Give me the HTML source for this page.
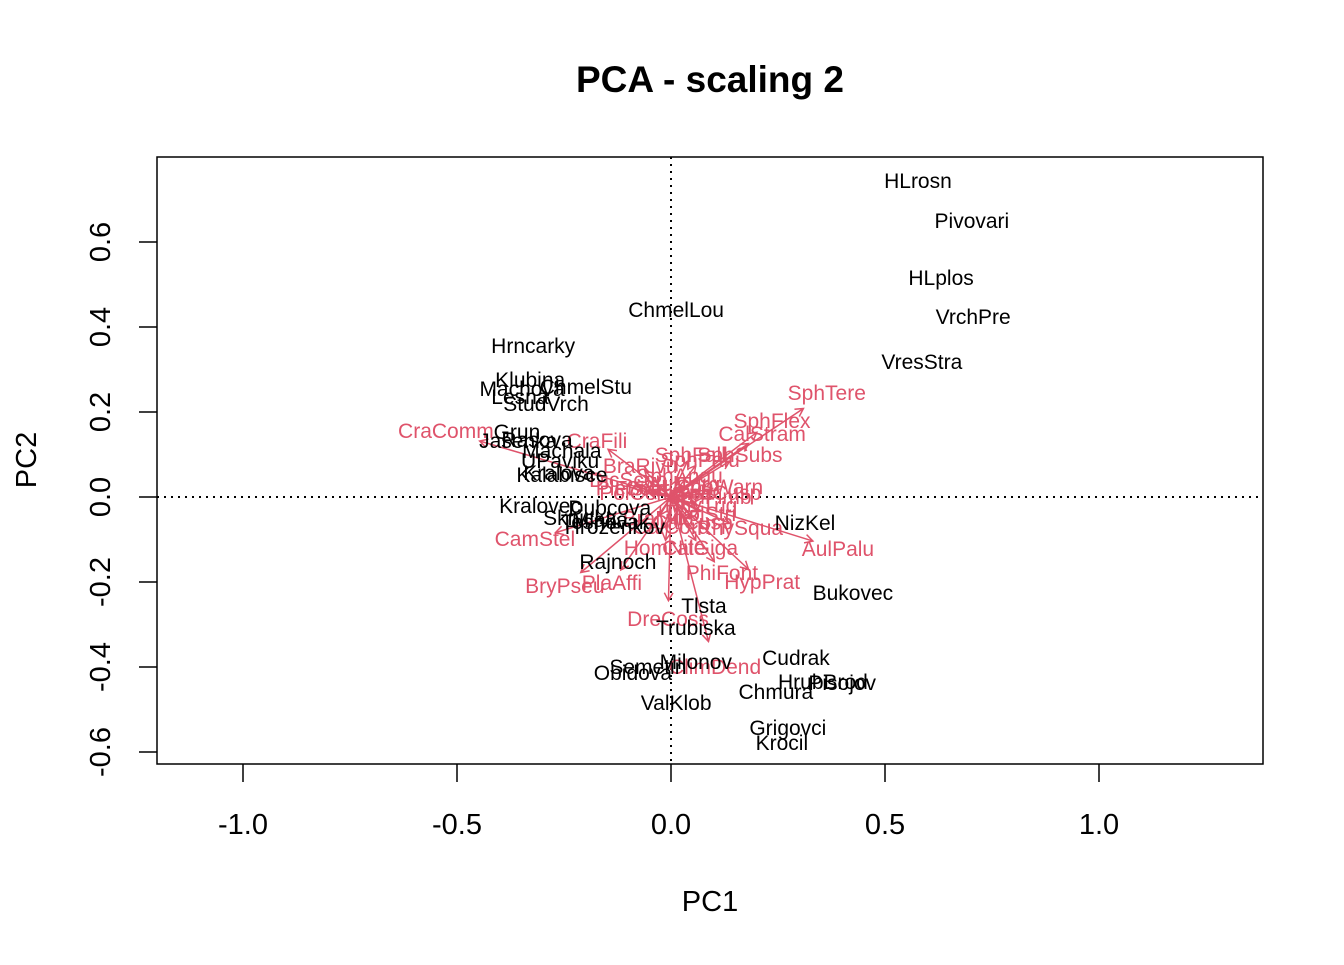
<!DOCTYPE html>
<html><head><meta charset="utf-8"><style>
body{margin:0;background:#fff;}
svg text{font-family:"Liberation Sans",Arial,sans-serif;}
</style></head><body>
<svg id="chart" width="1344" height="960" viewBox="0 0 1344 960">
<text x="710" y="92" font-size="37" font-weight="bold" text-anchor="middle">PCA - scaling 2</text>
<rect x="157" y="157" width="1106" height="607" fill="none" stroke="#000" stroke-width="1.5"/>
<g id="axes"></g>
<g id="refs"></g>
<g id="species"></g>
<g id="sites"></g>
<text x="710" y="911" font-size="29" text-anchor="middle">PC1</text>
<text x="36" y="460" font-size="29" text-anchor="middle" transform="rotate(-90 36 460)">PC2</text>
</svg>
<script>
const xTicks=[-1.0,-0.5,0.0,0.5,1.0];
const xTickLabels=["-1.0","-0.5","0.0","0.5","1.0"];
const yTicks=[-0.6,-0.4,-0.2,0.0,0.2,0.4,0.6];
const yTickLabels=["-0.6","-0.4","-0.2","0.0","0.2","0.4","0.6"];
const siteNames=["HLrosn","Pivovari","HLplos","VrchPre","VresStra","ChmelLou","Hrncarky","Klubina","ChmelStu","Machova","Lesna","StudVrch","Grun","Jasenka","Rasova","Machala","UPaviku","Kalabisce","Kralova","Kralovec","Dubcova","Sknicka","Mlaka","Tesnovak","Hrozenkov","NizKel","Rajnoch","Bukovec","Tlsta","Trubiska","Milonov","Semetin","Obidova","Cudrak","HrubBrod","Pisojov","Chmura","ValKlob","Grigovci","Krocil"];
const sitePC1=[0.577,0.703,0.631,0.706,0.586,0.012,-0.322,-0.329,-0.199,-0.348,-0.353,-0.292,-0.360,-0.357,-0.313,-0.255,-0.259,-0.255,-0.262,-0.306,-0.143,-0.213,-0.166,-0.154,-0.131,0.313,-0.124,0.425,0.077,0.058,0.058,-0.054,-0.089,0.292,0.355,0.400,0.245,0.012,0.273,0.259];
const sitePC2=[0.744,0.649,0.515,0.424,0.318,0.440,0.355,0.275,0.259,0.254,0.235,0.219,0.153,0.132,0.134,0.108,0.085,0.052,0.056,-0.021,-0.026,-0.049,-0.054,-0.059,-0.071,-0.061,-0.153,-0.226,-0.256,-0.308,-0.388,-0.400,-0.414,-0.379,-0.435,-0.438,-0.459,-0.485,-0.544,-0.579];
const spNames=["SphTere","SphFlex","CalStram","CraComm","CraFili","BraRivu","SphSubs","SphPalu","SphFall","SphWarn","CamStel","BryPseu","PlaAffi","HomNite","CalGiga","PhiFont","HypPrat","DreCoss","RhySqua","ClimDend","PleSchr","PolComm","AulTurg","SphFimb","RhyTriq","BraMild","CalCusp","CalCord","FisAdia","PolStri","SphCusp","SphAngu","DicScop","AulPalu"];
const spPC1=[0.364,0.236,0.213,-0.526,-0.173,-0.072,0.161,0.068,0.045,0.114,-0.318,-0.248,-0.138,-0.015,0.068,0.119,0.213,-0.007,0.161,0.103,-0.09,-0.06,0.03,0.09,0.07,-0.03,0.05,0.0,-0.05,0.08,0.11,0.02,-0.1,0.390];
const spPC2=[0.245,0.179,0.148,0.155,0.132,0.073,0.099,0.087,0.099,0.024,-0.099,-0.209,-0.202,-0.120,-0.120,-0.179,-0.200,-0.287,-0.073,-0.400,0.02,0.01,0.03,0.0,-0.02,-0.05,-0.06,-0.07,0.02,-0.04,0.01,0.05,0.04,-0.122];
const NS="http://www.w3.org/2000/svg";
const X=v=>671+v*428, Y=v=>497-v*425;
function mk(tag,attrs,parent,txt){const e=document.createElementNS(NS,tag);for(const k in attrs)e.setAttribute(k,attrs[k]);if(txt!==undefined)e.textContent=txt;parent.appendChild(e);return e;}
const axes=document.getElementById('axes');
xTicks.forEach((t,i)=>{
 const l=mk('line',{x1:X(t),x2:X(t),y1:764,y2:782,stroke:'#000','stroke-width':1.5},axes);
 
 
 const tx=mk('text',{x:X(t),y:834,'font-size':29,'text-anchor':'middle'},axes,xTickLabels[i]);
 
 
});
yTicks.forEach((t,i)=>{
 const l=mk('line',{x1:139,x2:157,y1:Y(t),y2:Y(t),stroke:'#000','stroke-width':1.5},axes);
 
 
 const tx=mk('text',{x:110,y:Y(t),'font-size':29,'text-anchor':'middle',transform:`rotate(-90 110 ${Y(t)})`},axes,yTickLabels[i]);
 
 
});
const refs=document.getElementById('refs');
const h=mk('line',{x1:157,x2:1263,y1:Y(0),y2:Y(0),stroke:'#000','stroke-width':2,'stroke-dasharray':'2 5'},refs);


const v=mk('line',{x1:X(0),x2:X(0),y1:157,y2:764,stroke:'#000','stroke-width':2,'stroke-dasharray':'2 5'},refs);


const sp=document.getElementById('species');
const red='#DF536B';
spNames.forEach((n,i)=>{
 const tx=X(spPC1[i]*0.85), ty=Y(spPC2[i]*0.85), ox=X(0), oy=Y(0);
 const g=mk('g',{},sp);
 
 
 mk('line',{x1:ox,y1:oy,x2:tx,y2:ty,stroke:red,'stroke-width':1.5},g);
 const a=Math.atan2(ty-oy,tx-ox), L=9;
 const p=[[tx-L*Math.cos(a-0.5),ty-L*Math.sin(a-0.5)],[tx,ty],[tx-L*Math.cos(a+0.5),ty-L*Math.sin(a+0.5)]];
 mk('polyline',{points:p.map(q=>q.join(',')).join(' '),fill:'none',stroke:red,'stroke-width':1.5},g);
 mk('text',{x:X(spPC1[i]),y:Y(spPC2[i])+7,'font-size':21,'text-anchor':'middle',fill:red},g,n);
});
const st=document.getElementById('sites');
siteNames.forEach((n,i)=>{
 const t=mk('text',{x:X(sitePC1[i]),y:Y(sitePC2[i])+7,'font-size':21,'text-anchor':'middle',fill:'#000'},st,n);
 
 
});
</script>
</body></html>
